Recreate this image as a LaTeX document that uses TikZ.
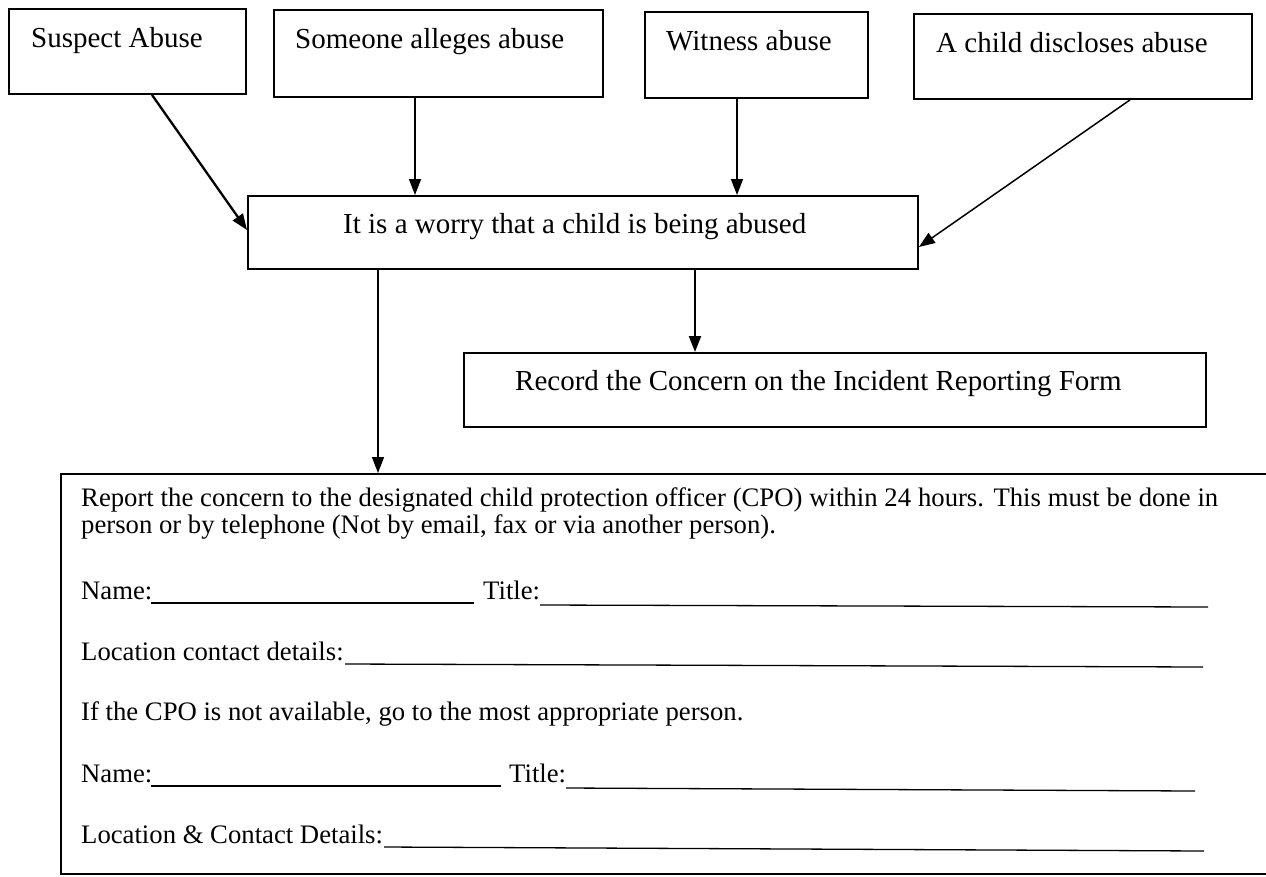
\documentclass[tikz,border=0pt]{standalone}
\usepackage{fontspec}
\setmainfont{Liberation Serif}
\usetikzlibrary{arrows.meta}
\begin{document}
\begin{tikzpicture}[x=1pt,y=-1pt,
  box/.style={draw=black, line width=1.9pt, anchor=north west, inner sep=0pt},
  btxt/.style={anchor=base west, inner sep=0pt, font=\fontsize{29}{34}\selectfont},
  ftxt/.style={anchor=base west, inner sep=0pt, font=\fontsize{26.7}{24}\selectfont},
  thinarr/.style={line width=1.5pt, -{Triangle[length=16pt,width=12pt]}},
  thickarr/.style={line width=2.3pt, -{Triangle[length=16pt,width=12pt]}},
  uline/.style={line width=1.3pt}
]
\path[use as bounding box] (0,0) rectangle (1266,876);
\clip (0,0) rectangle (1266,876);
\fill[white] (0,0) rectangle (1266,876);

% top boxes
\node[box, minimum width=237pt, minimum height=85pt] (s) at (8,8) {};
\node[btxt] (ts) at (31,47) {Suspect Abuse};
\node[box, minimum width=329pt, minimum height=87pt] (a) at (273,9) {};
\node[btxt] (ta) at (295,48) {Someone alleges abuse};
\node[box, minimum width=223pt, minimum height=86pt] (w) at (644,11) {};
\node[btxt] (tw) at (666,50) {Witness abuse};
\node[box, minimum width=338pt, minimum height=85pt] (c) at (913,13) {};
\node[btxt] (tc) at (936,52) {A child discloses abuse};

% middle box
\node[box, minimum width=670pt, minimum height=73pt] (m) at (247,195) {};
\node[btxt] (tm) at (343,233) {It is a worry that a child is being abused};

% record box
\node[box, minimum width=742pt, minimum height=74pt] (r) at (463,352) {};
\node[btxt] (tr) at (515,390) {Record the Concern on the Incident Reporting Form};

% big box
\node[box, minimum width=1260pt, minimum height=400pt] (b) at (60,473) {};
\node[ftxt] (l1) at (81,506) {\makebox[1137pt][s]{Report the concern to the designated child protection officer (CPO) within 24 hours. This must be done in}};
\node[ftxt] (l2) at (81,533) {person or by telephone (Not by email, fax or via another person).};
\node[ftxt] (l3) at (81,599) {Name:};
\node[ftxt] (l3b) at (483,599) {Title:};
\node[ftxt] (l4) at (81,660) {Location contact details:};
\node[ftxt] (l5) at (81,720) {If the CPO is not available, go to the most appropriate person.};
\node[ftxt] (l6) at (81,782) {Name:};
\node[ftxt] (l6b) at (509,782) {Title:};
\node[ftxt] (l7) at (81,843) {Location \& Contact Details:};

\draw[uline] (151,603) -- (474,603);
\draw[uline] (540,605) -- (1208,607);
\draw[uline] (345,664) -- (1203,667);
\draw[uline] (151,786) -- (501,786);
\draw[uline] (566,788) -- (1195,791);
\draw[uline] (384,847) -- (1204,851);

% connectors
\draw[thickarr] ([xshift=144pt]s.south west) -- ([yshift=-35pt]m.north west);
\draw[thinarr] ([xshift=142pt]a.south west) -- ([xshift=168pt]m.north west);
\draw[thinarr] ([xshift=93pt]w.south west) -- ([xshift=490pt]m.north west);
\draw[thinarr] ([xshift=217pt]c.south west) -- ([yshift=-52pt]m.north east);
\draw[thickarr] ([xshift=448pt]m.south west) -- ([xshift=232pt]r.north west);
\draw[thinarr] ([xshift=131pt]m.south west) -- ([xshift=318pt]b.north west);
\end{tikzpicture}
\end{document}
